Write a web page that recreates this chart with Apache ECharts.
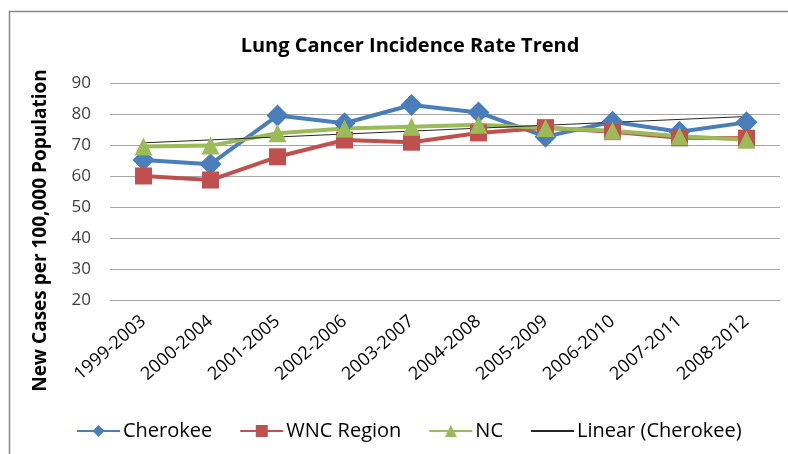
<!DOCTYPE html>
<html>
<head>
<meta charset="utf-8">
<script src="https://cdn.jsdelivr.net/npm/echarts@6/dist/echarts.min.js"></script>
<style>
  html, body { margin: 0; padding: 0; background: #fff; }
  #chart { width: 788px; height: 454px; }
</style>
</head>
<body>
<div id="chart"></div>
<script>
var periods = ['1999-2003', '2000-2004', '2001-2005', '2002-2006', '2003-2007',
               '2004-2008', '2005-2009', '2006-2010', '2007-2011', '2008-2012'];
var cherokee = [65.2, 63.8, 79.5, 77.0, 82.9, 80.5, 72.7, 77.5, 74.3, 77.3];
var wncRegion = [60.0, 58.7, 66.2, 71.6, 70.9, 73.9, 75.6, 74.3, 72.3, 72.2];
var ncState = [69.5, 69.8, 73.8, 75.3, 75.9, 76.5, 75.5, 74.6, 72.8, 71.7];
// linear trend of Cherokee, end points
var trendEnds = [70.7, 79.2];

var trend = periods.map(function (p, i) {
    if (i == 0) return trendEnds[0];
    if (i == periods.length - 1) return trendEnds[1];
    return null;
});

var font = '"Open Sans", Lato, sans-serif';
var chart = echarts.init(document.getElementById('chart'));

chart.setOption({
    animation: false,
    backgroundColor: '#fff',
    graphic: [{
        type: 'rect',
        shape: { x: 9.5, y: 11.5, width: 790, height: 460 },
        style: { fill: 'none', stroke: '#868686', lineWidth: 1.5 },
        silent: true
    }],
    title: {
        text: 'Lung Cancer Incidence Rate Trend',
        left: 405,
        textAlign: 'center',
        top: 31,
        textStyle: { fontFamily: font, fontWeight: 'bold', fontSize: 20, color: '#000' }
    },
    legend: {
        top: 416,
        left: 71,
        itemWidth: 43,
        itemHeight: 15,
        itemGap: 27,
        textStyle: { fontFamily: font, fontSize: 20, color: '#000', padding: [0, 0, 0, -2] },
        data: ['Cherokee', 'WNC Region', 'NC',
            { name: 'Linear (Cherokee)', itemStyle: { opacity: 0 } }]
    },
    grid: { left: 110, right: 8, top: 83, bottom: 154 },
    xAxis: {
        type: 'category',
        data: periods,
        boundaryGap: true,
        axisLine: { lineStyle: { color: '#a6a6a6' } },
        axisTick: { show: false },
        axisLabel: {
            rotate: 41,
            interval: 0,
            margin: 19,
            fontFamily: font,
            fontSize: 18,
            color: '#000'
        }
    },
    yAxis: {
        type: 'value',
        min: 20,
        max: 90,
        interval: 10,
        name: 'New Cases per 100,000 Population',
        nameLocation: 'middle',
        nameGap: 60,
        nameTextStyle: {
            fontFamily: font,
            fontWeight: 'bold',
            fontSize: 19,
            color: '#000',
            padding: [0, 78, 0, 0]
        },
        axisLine: { show: false },
        axisTick: { show: false },
        axisLabel: { margin: 19, fontFamily: font, fontSize: 17, color: '#404040' },
        splitLine: { lineStyle: { color: '#a6a6a6', width: 1 } }
    },
    series: [{
        name: 'Cherokee',
        type: 'line',
        data: cherokee,
        symbol: 'diamond',
        symbolSize: 22,
        color: '#4a7ebb',
        lineStyle: { width: 4 }
    }, {
        name: 'WNC Region',
        type: 'line',
        data: wncRegion,
        symbol: 'rect',
        symbolSize: 17,
        color: '#c0504d',
        lineStyle: { width: 4 }
    }, {
        name: 'NC',
        type: 'line',
        data: ncState,
        symbol: 'triangle',
        symbolSize: 18,
        color: '#9bbb59',
        lineStyle: { width: 4 }
    }, {
        name: 'Linear (Cherokee)',
        type: 'line',
        data: trend,
        connectNulls: true,
        symbol: 'none',
        color: '#262626',
        lineStyle: { width: 1 }
    }]
});
</script>
</body>
</html>
